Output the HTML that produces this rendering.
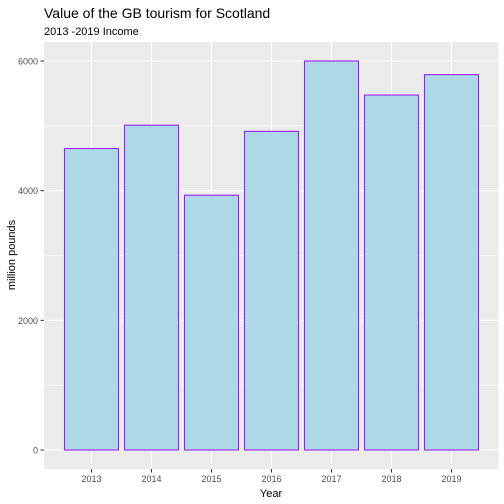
<!DOCTYPE html><html><head><style>body{margin:0;background:#fff}svg{display:block;font-family:"Liberation Sans",sans-serif}</style></head><body>
<svg id="c" width="504" height="504">
<text x="44" y="18" font-size="14" fill="#000">Value of the GB tourism for Scotland</text>
<text x="44" y="35" font-size="11" fill="#000">2013 -2019 Income</text>
<rect x="44" y="42" width="454.5" height="427" fill="#ebebeb"/>
<g id="grid"></g><g id="bars"></g><g id="axes"></g>
<text x="271" y="497" font-size="11" text-anchor="middle">Year</text>
<text transform="translate(15,255) rotate(-90)" font-size="11" text-anchor="middle">million pounds</text>
</svg>
<script>
const years=["2013","2014","2015","2016","2017","2018","2019"];
const income=[4650,5010,3930,4915,6000,5475,5790];
const yTicks=[0,2000,4000,6000];
const ns="http://www.w3.org/2000/svg";
const y=v=>450-v*(389/6000);
const x=i=>91.5+i*60;
function mk(t,a,p){const e=document.createElementNS(ns,t);for(const k in a)e.setAttribute(k,a[k]);p.appendChild(e);return e;}
const g=document.getElementById('grid'),b=document.getElementById('bars'),ax=document.getElementById('axes');
for(let k=0;k<yTicks.length-1;k++){const m=(yTicks[k]+yTicks[k+1])/2;const l=mk('line',{x1:44,x2:498.5,y1:y(m),y2:y(m),stroke:'#fff','stroke-width':0.6},g);

}
yTicks.forEach(v=>{const l=mk('line',{x1:44,x2:498.5,y1:y(v),y2:y(v),stroke:'#fff','stroke-width':1.1},g);


mk('line',{x1:40.5,x2:44,y1:y(v),y2:y(v),stroke:'#333'},ax);
const t=mk('text',{x:38,y:y(v)+3.5,'font-size':9,'text-anchor':'end',fill:'#4d4d4d'},ax);t.textContent=v;

});
years.forEach((yr,i)=>{const l=mk('line',{x1:x(i),x2:x(i),y1:42,y2:469,stroke:'#fff','stroke-width':1.1},g);


const r=mk('rect',{x:x(i)-27,y:y(income[i]),width:54,height:y(0)-y(income[i]),fill:'#add8e6',stroke:'#a020f0','stroke-width':1.1},b);


mk('line',{x1:x(i),x2:x(i),y1:469,y2:472.5,stroke:'#333'},ax);
const t=mk('text',{x:x(i),y:482,'font-size':9,'text-anchor':'middle',fill:'#4d4d4d'},ax);t.textContent=yr;

});
</script></body></html>
